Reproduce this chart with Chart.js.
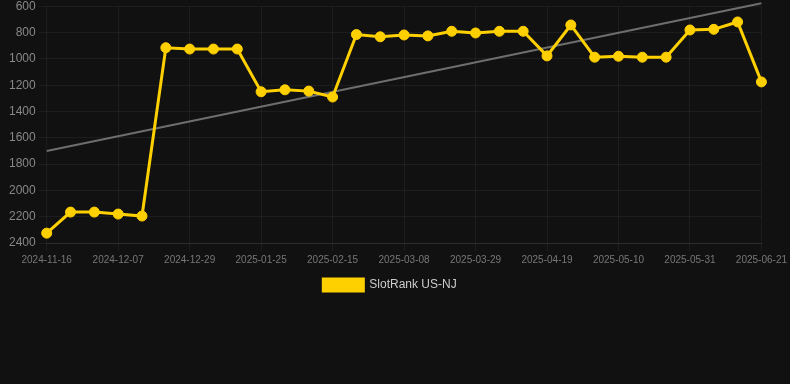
<!DOCTYPE html>
<html>
<head>
<meta charset="utf-8">
<script src="https://cdn.jsdelivr.net/npm/chart.js@4.4.1/dist/chart.umd.min.js"></script>
<style>
  html, body { margin: 0; padding: 0; background: #111111; }
  #wrap { position: relative; width: 790px; height: 301px; }
</style>
</head>
<body>
<div id="wrap"><canvas id="c"></canvas></div>
<script>
const categories = [
  '2024-11-16','2024-11-23','2024-11-30','2024-12-07','2024-12-14','2024-12-21',
  '2024-12-29','2025-01-05','2025-01-12','2025-01-25','2025-02-01','2025-02-08',
  '2025-02-15','2025-02-22','2025-03-01','2025-03-08','2025-03-15','2025-03-22',
  '2025-03-29','2025-04-05','2025-04-12','2025-04-19','2025-04-26','2025-05-03',
  '2025-05-10','2025-05-17','2025-05-24','2025-05-31','2025-06-07','2025-06-14',
  '2025-06-21'
];
const rankValues = [
  2325, 2165, 2165, 2180, 2195, 915, 925, 925, 925, 1250, 1235, 1245,
  1290, 815, 832, 818, 825, 790, 803, 790, 790, 977, 742, 987,
  980, 987, 987, 780, 775, 719, 1175
];
const trendStart = 1700;
const trendEnd = 577;
const yTicks = [600, 800, 1000, 1200, 1400, 1600, 1800, 2000, 2200, 2400];

const trendValues = categories.map((_, i) =>
  i === 0 ? trendStart : (i === categories.length - 1 ? trendEnd : null));

const legendShift = {
  id: 'legendShift',
  afterLayout(chart) {
    if (chart.legend) { chart.legend.left -= 8; chart.legend.right -= 8; }
  }
};

new Chart(document.getElementById('c'), {
  type: 'line',
  plugins: [legendShift],
  data: {
    labels: categories,
    datasets: [
      {
        label: 'SlotRank US-NJ',
        data: rankValues,
        borderColor: '#FFD000',
        backgroundColor: '#FFD000',
        borderWidth: 3,
        pointRadius: 5,
        pointBorderWidth: 1,
        pointBackgroundColor: '#FFD000',
        pointBorderColor: '#FFD000',
        tension: 0,
        order: 1
      },
      {
        label: 'trend',
        data: trendValues,
        spanGaps: true,
        borderColor: '#6e6e6e',
        borderWidth: 2,
        pointRadius: 0,
        clip: false,
        order: 2
      }
    ]
  },
  options: {
    responsive: true,
    maintainAspectRatio: false,
    animation: false,
    layout: { padding: { top: 0, right: 0, bottom: 0, left: 6 } },
    plugins: {
      legend: {
        position: 'bottom',
        labels: {
          color: '#cccccc',
          font: { family: 'Arial, "Liberation Sans", sans-serif', size: 12 },
          boxWidth: 40,
          boxHeight: 12,
          filter: (item) => item.text !== 'trend'
        }
      },
      tooltip: { enabled: false }
    },
    scales: {
      x: {
        grid: { color: 'rgba(255,255,255,0.05)', tickLength: 8 },
        border: { color: '#2c2c2c' },
        ticks: {
          color: '#777777',
          font: { family: 'Arial, "Liberation Sans", sans-serif', size: 10 },
          maxRotation: 0,
          autoSkip: true,
          maxTicksLimit: 11
        }
      },
      y: {
        reverse: true,
        min: 600,
        max: 2400,
        afterBuildTicks: (axis) => { axis.ticks = yTicks.map(v => ({ value: v })); },
        grid: { color: 'rgba(255,255,255,0.05)', tickLength: 8 },
        border: { display: false },
        ticks: {
          color: '#888888',
          font: { family: 'Arial, "Liberation Sans", sans-serif', size: 12, lineHeight: 0.55 },
          callback: (v) => String(v)
        }
      }
    }
  }
});
</script>
</body>
</html>
